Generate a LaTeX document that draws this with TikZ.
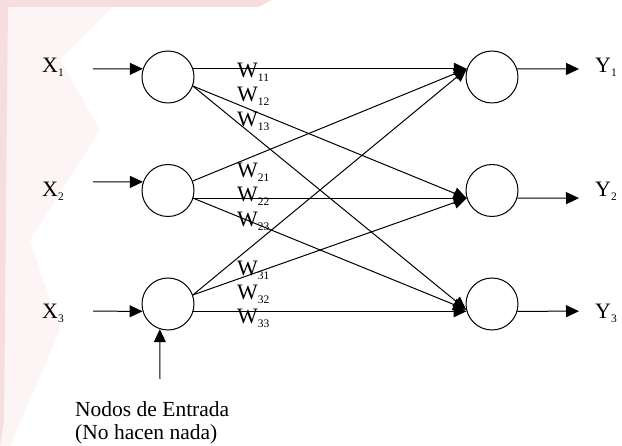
\documentclass[tikz,border=0pt]{standalone}
\usepackage{fontspec}
\setmainfont{Liberation Serif}
\usetikzlibrary{arrows.meta}
\definecolor{pinkband}{RGB}{246,222,222}
\definecolor{pinkwash}{RGB}{253,245,245}
\newcommand\sbs[1]{\raisebox{-4pt}{\fontsize{11.5}{12}\selectfont #1}}
\begin{document}
\begin{tikzpicture}[x=1pt,y=-1pt,
  neuron/.style={circle,draw,line width=1pt,minimum size=52pt,inner sep=0pt},
  conn/.style={line width=1pt,-{Triangle[length=13pt,width=12pt]}},
  lbl/.style={font=\fontsize{22}{24}\selectfont,inner sep=0pt,anchor=base west},
  caplbl/.style={font=\fontsize{21.5}{24}\selectfont,inner sep=0pt,anchor=base west},
]
\useasboundingbox (0,0) rectangle (622,446);
\fill[white] (0,0) rectangle (622,446);
% faint watermark
\fill[pinkwash] (0,0) -- (120,0) -- (60,60) -- (100,130) -- (30,240) -- (60,330) -- (10,446) -- (0,446) -- cycle;
\fill[pinkband] (0,0) -- (272,0) -- (258,7) -- (8,7) -- (4,420) -- (0,446) -- cycle;

% neurons
\node[neuron] (i1) at (168,77) {};
\node[neuron] (i2) at (168,190.5) {};
\node[neuron] (i3) at (168,304) {};
\node[neuron] (o1) at (492,77) {};
\node[neuron] (o2) at (492,190.5) {};
\node[neuron] (o3) at (492,304) {};

% input / output labels
\node[lbl] (x1) at (42,73) {X\sbs{1}};
\node[lbl] (x2) at (42,197) {X\sbs{2}};
\node[lbl] (x3) at (42,319) {X\sbs{3}};
\node[lbl] (y1) at (595,73) {Y\sbs{1}};
\node[lbl] (y2) at (595,197) {Y\sbs{2}};
\node[lbl] (y3) at (595,319) {Y\sbs{3}};

% free ends
\coordinate (xs1) at (93,69);
\coordinate (xs2) at (93,182);
\coordinate (xs3) at (93,311.2);
\coordinate (ye1) at (579,69);
\coordinate (ye2) at (579,198.1);
\coordinate (ye3) at (579,311.2);
\coordinate (vs) at (160,379);

% input arrows
\draw[conn] (xs1) -- (i1.162);
\draw[conn] (xs2) -- (i2.161);
\draw[conn] (xs3) -- (i3.196);
\draw[conn] (vs) -- (i3.-108);

% output arrows
\draw[conn] (o1.18) -- (ye1);
\draw[conn] (o2.-17) -- (ye2);
\draw[conn] (o3.-16) -- (ye3);

% weights
\draw[conn] (i1.18) -- (o1.162);
\draw[conn] (i1.-20) -- (o2.197);
\draw[conn] (i1.-20) -- (o3.192);
\draw[conn] (i2.21) -- (o1.162);
\draw[conn] (i2.-17) -- (o2.197);
\draw[conn] (i2.-17) -- (o3.192);
\draw[conn] (i3.20) -- (o1.162);
\draw[conn] (i3.20) -- (o2.197);
\draw[conn] (i3.-16) -- (o3.196);

% weight labels
\node[lbl] (w11) at (237,78) {W\sbs{11}};
\node[lbl] (w12) at (237,102) {W\sbs{12}};
\node[lbl] (w13) at (237,127) {W\sbs{13}};
\node[lbl] (w21) at (237,178) {W\sbs{21}};
\node[lbl] (w22) at (237,202) {W\sbs{22}};
\node[lbl] (w23) at (237,227) {W\sbs{23}};
\node[lbl] (w31) at (237,276) {W\sbs{31}};
\node[lbl] (w32) at (237,300) {W\sbs{32}};
\node[lbl] (w33) at (237,324) {W\sbs{33}};

% caption
\node[caplbl] (cap1) at (75,417) {Nodos de Entrada};
\node[caplbl] (cap2) at (75,440) {(No hacen nada)};
\end{tikzpicture}
\end{document}
